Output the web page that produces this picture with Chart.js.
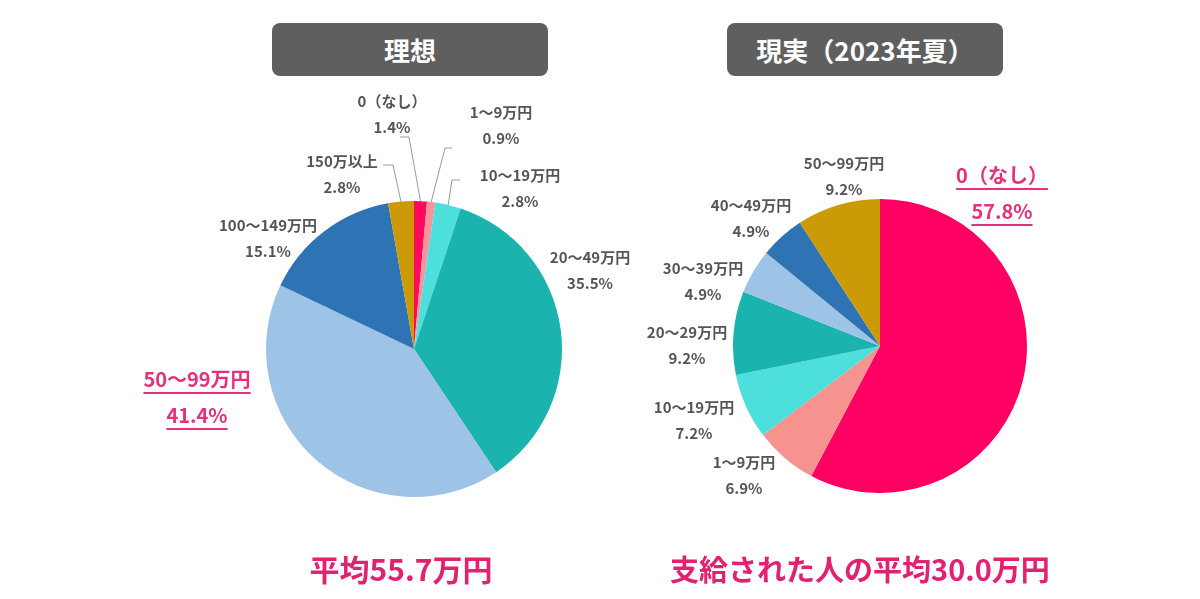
<!DOCTYPE html>
<html lang="ja">
<head>
<meta charset="utf-8">
<title>理想と現実</title>
<script src="https://cdn.jsdelivr.net/npm/chart.js@4/dist/chart.umd.min.js"></script>
<style>
  html, body { margin: 0; padding: 0; background: #fff; }
  body { font-family: "Noto Sans CJK JP", "Noto Sans", sans-serif; }
  #stage { position: relative; width: 1200px; height: 599px; overflow: hidden; }
  canvas { position: absolute; }
  .title {
    position: absolute; top: 23px; height: 53px; width: 276px;
    background: #5f5f5f; border-radius: 8px; color: #fff;
    font-size: 26px; font-weight: 700; line-height: 53px; text-align: center;
  }
  .lbl {
    position: absolute; transform: translate(-50%, -50%);
    color: #555; font-size: 15px; font-weight: 700; line-height: 26px;
    text-align: center; white-space: nowrap;
  }
  .lbl.hot {
    color: #e5317b; font-size: 20px; line-height: 36px;
  }
  .lbl.hot span {
    text-decoration: underline; text-decoration-thickness: 1.5px;
    text-underline-offset: 5px;
  }
  .avg {
    position: absolute; top: 548px; transform: translateX(-50%);
    color: #e2216f; font-size: 30px; font-weight: 700; white-space: nowrap;
    line-height: 40px;
  }
</style>
</head>
<body>
<div id="stage">
  <div class="title" style="left:272px">理想</div>
  <div class="title" style="left:727px">現実（2023年夏）</div>
  <canvas id="ideal" width="460" height="440" style="left:184px;top:110px"></canvas>
  <canvas id="real" width="294" height="294" style="left:733px;top:199px"></canvas>
  <div class="avg" style="left:401px">平均55.7万円</div>
  <div class="avg" style="left:860px;font-size:29px">支給された人の平均30.0万円</div>
</div>

<script>
// ── data ──
const idealLabels = ['0（なし）', '1～9万円', '10～19万円', '20～49万円', '50～99万円', '100～149万円', '150万以上'];
const idealValues = [1.4, 0.9, 2.8, 35.5, 41.4, 15.1, 2.8];
const idealColors = ['#ff0a5c', '#f7939a', '#4ddfdc', '#1bb3ad', '#9dc3e6', '#2e73b4', '#cc9a06'];

const realLabels = ['0（なし）', '1～9万円', '10～19万円', '20～29万円', '30～39万円', '40～49万円', '50～99万円'];
const realValues = [57.8, 6.9, 7.2, 9.2, 4.9, 4.9, 9.2];
const realColors = ['#ff0062', '#f7938f', '#4ddfdc', '#1bb3ad', '#9dc3e6', '#2e73b4', '#cc9a06'];

// label block centres (page px) and which one is highlighted
const idealLabelPos = [[392, 114], [501, 125], [520, 188], [590, 270], [197, 397], [268, 238], [342, 174]];
const realLabelPos  = [[1002, 193], [744, 475], [694, 420], [687, 345], [703, 281], [751, 218], [844, 176]];
const idealHot = 4;
const realHot = 0;

// leader lines for the thin slices on the left pie: [slice, bend dx, bend dy, end dx, end dy] from pie centre
const idealLeaders = [[0, -5, -212, -14, -212], [1, 31, -201, 38, -201], [2, 38, -169, 46, -169], [6, -21, -184, -31, -184]];

const stage = document.getElementById('stage');

function addLabels(labels, values, pos, hot) {
  labels.forEach((name, i) => {
    const d = document.createElement('div');
    d.className = 'lbl' + (i === hot ? ' hot' : '');
    d.style.left = pos[i][0] + 'px';
    d.style.top = pos[i][1] + 'px';
    const a = document.createElement('span');
    a.textContent = name;
    const b = document.createElement('span');
    b.textContent = values[i].toFixed(1) + '%';
    d.appendChild(a);
    d.appendChild(document.createElement('br'));
    d.appendChild(b);
    stage.appendChild(d);
  });
}

const leaderPlugin = {
  id: 'leaders',
  afterDatasetsDraw(chart, args, opts) {
    if (!opts.lines) return;
    const ctx = chart.ctx;
    const arcs = chart.getDatasetMeta(0).data;
    ctx.save();
    ctx.strokeStyle = '#9a9a9a';
    ctx.lineWidth = 1;
    opts.lines.forEach(([i, bx, by, ex, ey]) => {
      const arc = arcs[i];
      const mid = (arc.startAngle + arc.endAngle) / 2;
      const sx = arc.x + Math.cos(mid) * arc.outerRadius;
      const sy = arc.y + Math.sin(mid) * arc.outerRadius;
      ctx.beginPath();
      ctx.moveTo(sx, sy);
      ctx.lineTo(arc.x + bx, arc.y + by);
      ctx.lineTo(arc.x + ex, arc.y + ey);
      ctx.stroke();
    });
    ctx.restore();
  }
};

function makePie(id, labels, values, colors, padding, lines) {
  return new Chart(document.getElementById(id), {
    type: 'pie',
    data: {
      labels: labels,
      datasets: [{
        data: values,
        backgroundColor: colors,
        borderWidth: 0
      }]
    },
    options: {
      responsive: false,
      animation: false,
      layout: { padding: padding },
      plugins: {
        legend: { display: false },
        tooltip: { enabled: false },
        leaders: { lines: lines }
      }
    },
    plugins: [leaderPlugin]
  });
}

makePie('ideal', idealLabels, idealValues, idealColors, { left: 82, right: 82, top: 91, bottom: 53 }, idealLeaders);
makePie('real', realLabels, realValues, realColors, 0, null);

addLabels(idealLabels, idealValues, idealLabelPos, idealHot);
addLabels(realLabels, realValues, realLabelPos, realHot);
</script>
</body>
</html>
